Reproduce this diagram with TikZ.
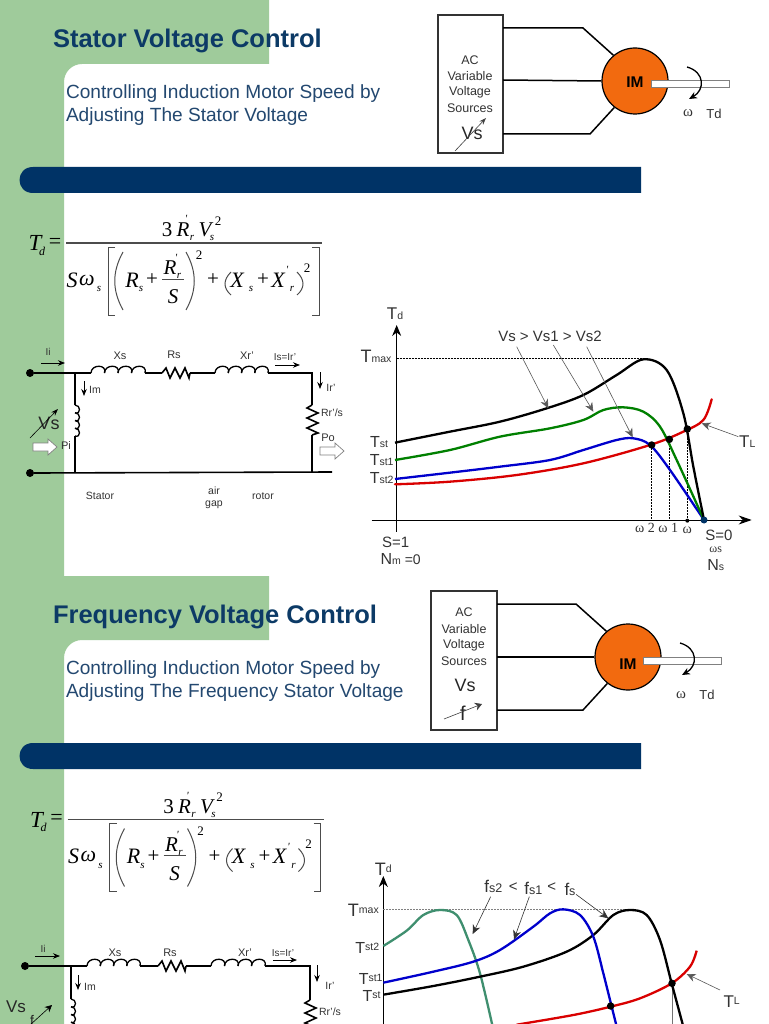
\documentclass[tikz,border=0pt]{standalone}
\usepackage{fontspec}
\setmainfont{Liberation Sans}
\newfontfamily\serifit[Scale=1]{Liberation Serif}
\usetikzlibrary{arrows.meta}
\definecolor{slidegreen}{HTML}{9FCB9B}
\definecolor{navy}{HTML}{003366}
\definecolor{titleblue}{HTML}{0C3A66}
\definecolor{subblue}{HTML}{234870}
\definecolor{inkgray}{HTML}{333333}
\definecolor{motor}{HTML}{F26A0F}
\definecolor{teal}{HTML}{3F8F6F}
\newcounter{lb}
\newcommand\fsz[1]{\fontsize{#1}{#1}\selectfont}
% general label: [options] position, size, text
\newcommand\tx[4][]{\stepcounter{lb}\node[lbl,#1] (t\arabic{lb}) at (#2) {\fsz{#3}#4};}
% formula label
\newcommand\fm[3]{\stepcounter{lb}\node[lbl,text=black] (t\arabic{lb}) at (#1) {\fsz{#2}\serifit\itshape #3};}
\newcommand\mix[3][16]{{\fsz{#1}#2}{\fsz{10.5}#3}}
\newcommand\mixup[3][16]{{\fsz{#1}#2}\raisebox{3pt}{\fsz{10.5}#3}}
% coil with horizontal run: start x, y, step
\newcommand\hcoil[3]{%
  \foreach \i in {0,1,2,3}{\draw[wire,line width=1.3pt] (#1+\i*#3,#2) .. controls (#1+\i*#3,#2-9) and (#1+\i*#3+#3+3,#2-9) .. (#1+\i*#3+#3,#2);}}
\newcommand\vcoil[3]{%
  \foreach \i in {0,1,2,3}{\draw[wire,line width=1.3pt] (#1,#2+\i*#3) .. controls (#1+6,#2+\i*#3) and (#1+6,#2+\i*#3+#3+2) .. (#1,#2+\i*#3+#3);}}
\newcommand\hres[2]{\draw[wire] (#1,#2) -- ++(4,-5) -- ++(4,10) -- ++(5,-10) -- ++(5,10) -- ++(5,-10) -- ++(4,10) -- ++(1,-5);}
\newcommand\vres[2]{\draw[wire] (#1,#2) -- ++(-5,3) -- ++(11,5) -- ++(-11,5) -- ++(11,5) -- ++(-11,5) -- ++(11,5) -- ++(-6,2);}
\newcommand\formula{%
  \draw[rulegray] (66,243) -- (322,243);
  \fm{35,243}{23}{T}\fm{42,251}{12}{d}
  \stepcounter{lb}\node[lbl,text=black] (t\arabic{lb}) at (55,243) {\fsz{22}\serifit =};
  \fm{167,230}{21}{\upshape 3}\fm{183,230}{21}{R}\fm{186,219}{11}{'}\fm{192,238}{11}{r}
  \fm{205,230}{21}{V}\fm{212,238}{11}{s}\fm{218,221}{13}{\upshape 2}
  \fm{72,280}{22}{S}\fm{87,280}{22}{ω}\fm{99,289}{11}{s}
  \draw[rulegray,line width=1pt] (115,247) -- (108,247) -- (108,315) -- (115,315);
  \draw[rulegray,line width=1pt] (312,247) -- (319,247) -- (319,315) -- (312,315);
  \draw[rulegray,line width=1pt] (123,252) .. controls (112,272) and (112,290) .. (123,310);
  \draw[rulegray,line width=1pt] (186,252) .. controls (197,272) and (197,290) .. (186,310);
  \fm{132,280}{22}{R}\fm{141,289}{11}{s}\fm{152,280}{21}{\upshape +}
  \draw[rulegray,line width=.8pt] (162,279) -- (184,279);
  \fm{170,268}{21}{R}\fm{176,258}{11}{'}\fm{179,276}{11}{r}\fm{173,297}{21}{S}
  \fm{199,255}{13}{\upshape 2}\fm{213,280}{21}{\upshape +}
  \draw[rulegray,line width=1pt] (231,272) .. controls (223,280) and (223,288) .. (231,295);
  \fm{237,280}{22}{X}\fm{251,289}{11}{s}\fm{263,280}{21}{\upshape +}
  \fm{278,280}{22}{X}\fm{287,270}{11}{'}\fm{292,289}{11}{r}
  \draw[rulegray,line width=1pt] (297,272) .. controls (305,280) and (305,288) .. (297,295);
  \fm{307,268}{13}{\upshape 2}
}
\tikzset{
  x=1pt,y=-1pt,
  lbl/.style={inner sep=0pt,outer sep=0pt,anchor=center,text=inkgray,align=center},
  wire/.style={draw=black,line width=1.6pt,line join=miter},
  motorwire/.style={draw=black,line width=1.5pt},
  rulegray/.style={draw=black!70,line width=1.3pt},
  tip/.style={-{Stealth[length=7pt,width=5.5pt]},draw=black,line width=.8pt},
  pointer/.style={-{Stealth[length=9pt,width=8pt]},draw=black!65,line width=.6pt},
  curve/.style={line width=2.3pt,smooth,tension=.55},
  guide/.style={draw=black,line width=.5pt,dashed,dash pattern=on 2pt off 1pt},
  dotnode/.style={circle,fill=black,inner sep=0pt,minimum size=#1},
  blockarrow/.style={draw=black!50,fill=white,line width=.7pt},
}
\begin{document}
\begin{tikzpicture}
\useasboundingbox (0,0) rectangle (768,1024);
\clip (0,0) rectangle (768,1024);
\fill[white] (0,0) rectangle (768,1024);
% slide backgrounds
\fill[slidegreen] (0,0) -- (269,0) -- (269,64) -- (82,64) .. controls (72,64) and (64,72) .. (64,82)
  -- (64,576) -- (269,576) -- (269,640) -- (82,640) .. controls (72,640) and (64,648) .. (64,658)
  -- (64,1024) -- (0,1024) -- cycle;
\fill[navy] (641,167) -- (33,167) .. controls (15,167) and (15,193) .. (33,193) -- (641,193) -- cycle;
\fill[navy] (641,743) -- (33,743) .. controls (15,743) and (15,769) .. (33,769) -- (641,769) -- cycle;
% titles
\tx[anchor=west,text=titleblue,font=\bfseries]{53,41}{25.5}{Stator Voltage Control}
\tx[anchor=west,text=titleblue,font=\bfseries]{53,617}{25.5}{Frequency Voltage Control}
\tx[anchor=west,text=subblue]{66,94}{19.1}{Controlling Induction Motor Speed by}
\tx[anchor=west,text=subblue]{66,117}{19.1}{Adjusting The Stator Voltage}
\tx[anchor=west,text=subblue]{66,670}{19.1}{Controlling Induction Motor Speed by}
\tx[anchor=west,text=subblue]{66,693}{19.1}{Adjusting The Frequency Stator Voltage}
% formulas
\begin{scope}\formula\end{scope}
\begin{scope}[xshift=1.5pt,yshift=-576.5pt]\formula\end{scope}

% motor 1
\node[draw=black!80,line width=1.4pt,minimum width=65pt,minimum height=138pt,inner sep=0pt] (box1) at (470.5,84) {};
\node[circle,draw=black,line width=1.2pt,fill=motor,minimum size=66pt,inner sep=0pt] (im1) at (635,81) {};
\draw[motorwire] (503,28) -- (583,28) -- (im1.130);
\draw[motorwire] (503,80) -- (im1.west);
\draw[motorwire] (503,134) -- (590,134) -- (im1.232);
\tx[text=black,font=\bfseries]{635,82}{15.5}{IM}
\node[draw=black!50,fill=white,line width=.6pt,minimum width=78pt,minimum height=7pt,inner sep=0pt] (sh1) at (690,84) {};
\draw[-{Stealth[length=8pt,width=7pt]},line width=1.3pt] (687,67) .. controls (705,72) and (705,90) .. (689,99);
\tx{688,113}{15}{\serifit ω}
\tx{714,114}{13}{Td}
\tx{470,60}{12.5}{AC}\tx{470,76}{12.5}{Variable}\tx{470,92}{12.5}{Voltage}\tx{470,108}{12.5}{Sources}
\tx[text=black!85]{472,133}{18}{Vs}
\draw[-{Stealth[length=7pt,width=5pt]},draw=black!75,line width=.6pt] (455,151) -- (486,118);

% motor 2
\node[draw=black!80,line width=1.4pt,minimum width=66pt,minimum height=139pt,inner sep=0pt] (box2) at (464,660.5) {};
\node[circle,draw=black,line width=1.2pt,fill=motor,minimum size=66pt,inner sep=0pt] (im2) at (628,657) {};
\draw[motorwire] (497,604) -- (576,604) -- (im2.130);
\draw[motorwire] (497,657) -- (im2.west);
\draw[motorwire] (497,710) -- (583,710) -- (im2.232);
\tx[text=black,font=\bfseries]{628,664}{15.5}{IM}
\node[draw=black!50,fill=white,line width=.6pt,minimum width=78pt,minimum height=7pt,inner sep=0pt] (sh2) at (682.5,661) {};
\draw[-{Stealth[length=8pt,width=7pt]},line width=1.3pt] (680,643) .. controls (698,648) and (698,666) .. (682,675);
\tx{681,695}{15}{\serifit ω}
\tx{707,695}{13}{Td}
\tx{464,612}{12.5}{AC}\tx{464,629}{12.5}{Variable}\tx{464,645}{12.5}{Voltage}\tx{464,661}{12.5}{Sources}
\tx[text=black!85]{465,685}{18}{Vs}
\tx[text=black!85]{463,713}{20}{f}
\draw[-{Stealth[length=7pt,width=8pt]},draw=black!75,line width=.6pt] (444,719) -- (482,704);

% circuit 1
\node[dotnode=8pt] (c1a) at (30,373) {};
\node[dotnode=8pt] (c1b) at (30,473) {};
\coordinate (c1j) at (75,373); \coordinate (c1k) at (75,472);
\coordinate (c1r) at (312,373); \coordinate (c1s) at (312,472); \coordinate (c1e) at (332,472);
\draw[wire] (c1a) -- (91,373);
\hcoil{91}{373}{13.5}
\draw[wire] (145,373) -- (162,373);
\hres{162}{373}
\draw[wire] (190,373) -- (215,373);
\hcoil{215}{373}{13.25}
\draw[wire] (268,373) -- (c1r) -- (312,405);
\vres{312}{405}
\draw[wire] (312,435) -- (c1s);
\draw[wire] (c1b.east) -- (c1e);
\draw[wire] (c1j) -- (75,405);
\vcoil{75}{405}{7.75}
\draw[wire] (75,436) -- (c1k);
\tx{48,352}{10}{Ii}\tx{120,356}{11}{Xs}\tx{174,355}{11}{Rs}\tx{247,356}{11}{Xr'}
\tx{285,357}{10}{Is=Ir'}\tx{331,388}{10.5}{Ir'}\tx{95,390}{10.5}{Im}\tx{332,413}{10.5}{Rr'/s}
\tx{66,446}{11}{Pi}\tx{328,438}{11}{Po}
\tx{100,496}{10.5}{Stator}\tx{214,491}{10.5}{air}\tx{214,505}{10.5}{gap}\tx{263,496}{10.5}{rotor}
\tx[text=black!85]{49,423}{18}{Vs}
\draw[tip] (41,363) -- (65,363);
\draw[tip] (275,365) -- (300,365);
\draw[tip] (320,372) -- (320,389);
\draw[tip] (84,381) -- (84,396);
\draw[-{Stealth[length=7pt,width=5pt]},line width=.6pt] (30,438) -- (58,409);
\draw[blockarrow] (33,443) -- (48,443) -- (48,439) -- (57,447) -- (48,455) -- (48,451) -- (33,451) -- cycle;
\draw[blockarrow] (320,447) -- (335,447) -- (335,443) -- (344,451) -- (335,459) -- (335,455) -- (320,455) -- cycle;

% circuit 2
\node[dotnode=8pt] (c2a) at (25,966) {};
\coordinate (c2j) at (71,966); \coordinate (c2r) at (310,966);
\draw[wire] (c2a) -- (87,966);
\hcoil{87}{966}{13.25}
\draw[wire] (140,966) -- (158,966);
\hres{158}{966}
\draw[wire] (186,966) -- (211,966);
\hcoil{211}{966}{13.5}
\draw[wire] (265,966) -- (c2r) -- (310,1000);
\vres{310}{1000}
\draw[wire] (c2j) -- (71,999);
\vcoil{71}{999}{7.75}
\tx{43,949}{10}{Ii}\tx{115,953}{11}{Xs}\tx{170,953}{11}{Rs}\tx{245,953}{11}{Xr'}
\tx{283,953}{10}{Is=Ir'}\tx{330,986}{10.5}{Ir'}\tx{90,987}{10.5}{Im}\tx{330,1012}{10.5}{Rr'/s}
\tx[text=black!85]{16,1007}{17}{Vs}
\tx[text=black!85]{32,1020}{14}{f}
\draw[tip] (35,956) -- (60,956);
\draw[tip] (273,960) -- (297,960);
\draw[tip] (317,965) -- (317,982);
\draw[tip] (78,975) -- (78,990);
\draw[-{Stealth[length=7pt,width=7pt]},line width=.6pt] (30,1025) -- (52,1005);

% chart 1 (zoom coordinates: px = 350 + X/3, 300 + Y/3)
\begin{scope}[xshift=350pt,yshift=-300pt,x=.33333pt,y=-.33333pt]
\coordinate (a1o) at (140,695); \coordinate (a1y) at (140,75);
\coordinate (a1w) at (65,660); \coordinate (a1x) at (1205,660);
\draw[-{Stealth[length=11pt,width=9pt]},line width=.9pt] (a1o) -- (a1y);
\draw[-{Stealth[length=13pt,width=9pt]},line width=.9pt] (a1w) -- (a1x);
\draw[guide] (140,175) -- (880,175);
\draw[guide] (905,435) -- (905,660);
\draw[guide] (958,418) -- (958,660);
\draw[guide] (1012,387) -- (1012,660);
\draw[curve,red!85!black,line cap=round] plot coordinates {(135,553)(300,545)(500,525)(700,490)(900,435)(1000,395)(1060,360)(1085,298)};
\draw[curve,blue!80!black] plot coordinates {(135,537)(300,518)(450,500)(600,480)(700,450)(800,420)(850,415)(900,435)(960,510)(1062,660)};
\draw[curve,green!50!black] plot coordinates {(135,480)(300,450)(450,410)(600,385)(700,360)(760,330)(820,322)(880,335)(930,380)(980,480)(1062,660)};
\draw[curve,black] plot coordinates {(135,428)(300,395)(450,365)(590,325)(700,285)(800,225)(880,178)(950,210)(1000,340)(1030,500)(1062,660)};
\node[dotnode=7.5pt] (p1) at (905,435) {};
\node[dotnode=7.5pt] (p2) at (958,418) {};
\node[dotnode=7.5pt] (p3) at (1012,387) {};
\node[dotnode=4pt] (p4) at (1012,662) {};
\node[circle,fill=navy,inner sep=0pt,minimum size=7pt] (p5) at (1062,660) {};
\coordinate (v1) at (500,140); \coordinate (v2) at (610,135); \coordinate (v3) at (710,140); \coordinate (tl) at (1165,410);
\draw[pointer] (v1) -- (595,325);
\draw[pointer] (v2) -- (730,335);
\draw[pointer] (v3) -- (848,412);
\draw[pointer] (tl) -- (1055,370);
\tx{600,110}{15}{Vs > Vs1 > Vs2}
\tx{135,40}{1}{\mix[17]{T}{d}}
\tx{78,168}{1}{\mix[18]{T}{max}}
\tx{87,425}{1}{\mix[16]{T}{st}}
\tx{95,480}{1}{\mix[16]{T}{st1}}
\tx{95,533}{1}{\mix[16]{T}{st2}}
\tx{137,728}{15}{S=1}
\tx{152,778}{1}{\mix[16]{N}{m}{\fsz{14} =0}}
\tx{885,683}{14}{\serifit ω 2}
\tx{955,683}{14}{\serifit ω 1}
\tx{1012,690}{14}{\serifit ω}
\tx{1107,705}{15}{S=0}
\tx{1097,750}{12}{\serifit ωs}
\tx{1097,795}{1}{\mix[16]{N}{s}}
\tx{1192,425}{1}{\mix[17]{T}{L}}
\end{scope}

% chart 2 (zoom coordinates: px = 340 + X/3, 850 + Y/3)
\begin{scope}[xshift=340pt,yshift=-850pt,x=.33333pt,y=-.33333pt]
\coordinate (a2o) at (130,530); \coordinate (a2y) at (130,78);
\draw[-{Stealth[length=11pt,width=9pt]},line width=.9pt] (a2o) -- (a2y);
\draw[draw=black!50,line width=.6pt,dashed,dash pattern=on 2pt off 1pt] (130,178) -- (870,178);
\draw[draw=black!55,line width=.6pt] (996,400) -- (996,530);
\draw[curve,red!85!black] plot coordinates {(530,524)(700,495)(812,470)(900,445)(995,400)(1050,350)(1070,302)};
\draw[curve,teal] plot coordinates {(130,288)(200,242)(250,195)(300,180)(350,195)(385,270)(420,370)(458,530)};
\draw[curve,black] plot coordinates {(130,434)(280,408)(420,380)(550,350)(680,305)(760,255)(820,195)(870,180)(920,195)(960,270)(995,400)(1030,530)};
\draw[curve,blue!80!black] plot coordinates {(130,398)(280,365)(400,335)(480,300)(580,230)(630,190)(670,178)(720,195)(760,260)(790,370)(815,470)(830,530)};
\node[dotnode=7.5pt] (q1) at (812,468) {};
\node[dotnode=7.5pt] (q2) at (996,400) {};
\coordinate (f2) at (452,140); \coordinate (f1) at (568,140); \coordinate (f0) at (708,133); \coordinate (tl2) at (1140,420);
\draw[pointer,draw=black!80] (f2) -- (398,252);
\draw[pointer,draw=black!80] (f1) -- (522,268);
\draw[pointer,draw=black!80] (f0) -- (805,205);
\draw[pointer] (tl2) -- (1040,372);
\tx{460,110}{1}{\mix[17]{f}{\fsz{12.5}s2}}
\tx{520,112}{15}{<}
\tx{580,115}{1}{\mix[17]{f}{\fsz{12.5}s1}}
\tx{635,112}{15}{<}
\tx{690,118}{1}{\mix[17]{f}{\fsz{12.5}s}}
\tx{130,58}{1}{\mixup[18]{T}{d}}
\tx{70,180}{1}{\mixup[18]{T}{max}}
\tx{82,295}{1}{\mixup[16]{T}{st2}}
\tx{92,387}{1}{\mixup[16]{T}{st1}}
\tx{95,437}{1}{\mixup[16]{T}{st}}
\tx{1175,455}{1}{\mixup[17]{T}{L}}
\end{scope}
\end{tikzpicture}
\end{document}
